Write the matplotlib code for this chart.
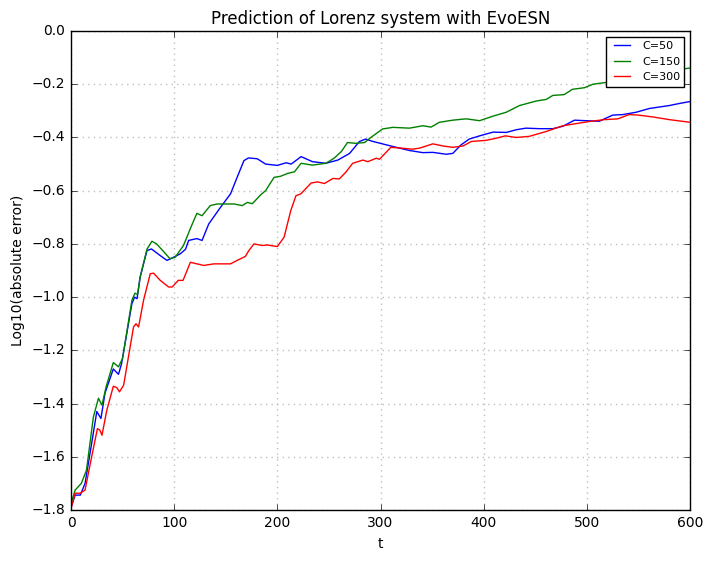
import numpy as np
import matplotlib
matplotlib.use("Agg")
import matplotlib.pyplot as plt

plt.style.use("classic")

# C=50
t_c50 = [0, 4, 9, 13.6, 20, 25, 29, 33, 41, 46, 49, 59, 61.6, 64, 67, 73.6, 78, 86.5, 93, 99.5,
         106, 111, 114, 122, 127, 133.5, 145, 154.6, 161, 167.6, 172, 180.5, 188.6, 200, 208.6,
         213.4, 223, 234, 247, 258.6, 270, 279.6, 285.5, 292.6, 312, 328, 341, 350.7, 363.6, 370,
         378, 386, 396, 409, 422, 431.5, 441, 454, 467, 476.7, 488, 499, 512, 525, 535, 548,
         560.7, 580, 590, 600]
e_c50 = [-1.79, -1.744, -1.744, -1.70, -1.55, -1.43, -1.456, -1.36, -1.27, -1.29, -1.25, -1.025,
         -1.0, -1.006, -0.925, -0.825, -0.819, -0.844, -0.862, -0.85, -0.837, -0.82, -0.787, -0.78,
         -0.787, -0.725, -0.662, -0.612, -0.55, -0.487, -0.477, -0.48, -0.50, -0.505, -0.495,
         -0.50, -0.472, -0.491, -0.497, -0.485, -0.46, -0.415, -0.406, -0.415, -0.434, -0.449,
         -0.457, -0.456, -0.463, -0.46, -0.428, -0.406, -0.394, -0.38, -0.381, -0.371, -0.365,
         -0.367, -0.367, -0.358, -0.335, -0.337, -0.339, -0.316, -0.314, -0.305, -0.291, -0.28,
         -0.272, -0.265]

# C=150
t_c150 = [0, 4, 10, 15, 21.7, 26.6, 30, 34, 41, 46, 50, 59, 62, 64.5, 67, 73.6, 78.4, 83, 90, 96,
          101, 109, 117, 122, 127, 135, 141.6, 158, 166, 171, 175.7, 184, 188.6, 196.8, 203,
          210, 216.6, 223, 234, 247, 255, 262, 268, 276, 284.5, 291, 302, 312, 328, 341, 349,
          357, 370, 383, 396, 409, 422, 434.7, 451, 460.6, 467, 478, 486, 497.7, 505.8, 517,
          540, 560, 580, 600]
e_c150 = [-1.775, -1.725, -1.70, -1.65, -1.45, -1.38, -1.406, -1.337, -1.246, -1.262, -1.23,
          -1.012, -0.985, -0.99, -0.925, -0.82, -0.79, -0.80, -0.83, -0.856, -0.85, -0.806, -0.73,
          -0.685, -0.694, -0.656, -0.65, -0.65, -0.656, -0.644, -0.649, -0.615, -0.60, -0.55,
          -0.546, -0.535, -0.529, -0.497, -0.504, -0.497, -0.478, -0.453, -0.419, -0.422, -0.419,
          -0.399, -0.368, -0.362, -0.365, -0.356, -0.361, -0.343, -0.335, -0.33, -0.337, -0.32,
          -0.305, -0.28, -0.263, -0.257, -0.242, -0.239, -0.219, -0.213, -0.20, -0.194, -0.18,
          -0.165, -0.15, -0.139]

# C=300
t_c300 = [0, 4, 9, 13.6, 20, 25.6, 28, 30, 34.7, 41, 44.4, 47, 51, 60.6, 63, 65.5, 70.3, 76.8, 80,
          86.5, 94.6, 98, 104, 108.6, 115.7, 122, 128.7, 138.4, 154.6, 161, 169, 172.4, 177.3,
          185.4, 190, 200, 206.5, 213, 218, 222.7, 232.8, 239, 245.7, 253.8, 260, 266.7, 273,
          282.9, 287.7, 295.8, 299, 310, 320, 331, 338, 350.7, 360.4, 370, 380, 388, 402, 412,
          421, 431.5, 444, 461, 476.7, 489.6, 504, 517, 530, 541, 550, 564, 580, 600]
e_c300 = [-1.794, -1.737, -1.737, -1.725, -1.60, -1.494, -1.50, -1.519, -1.425, -1.335, -1.34,
          -1.356, -1.331, -1.112, -1.10, -1.112, -1.012, -0.912, -0.91, -0.937, -0.962, -0.962,
          -0.937, -0.937, -0.869, -0.875, -0.881, -0.875, -0.875, -0.862, -0.847, -0.825, -0.80,
          -0.806, -0.804, -0.81, -0.775, -0.675, -0.619, -0.612, -0.571, -0.567, -0.573, -0.554,
          -0.556, -0.529, -0.497, -0.485, -0.491, -0.478, -0.482, -0.437, -0.44, -0.444, -0.44,
          -0.424, -0.432, -0.437, -0.432, -0.415, -0.411, -0.403, -0.394, -0.40, -0.396, -0.377,
          -0.356, -0.348, -0.339, -0.333, -0.33, -0.314, -0.316, -0.323, -0.333, -0.343]

fig = plt.figure(figsize=(7.13, 5.61), dpi=100)
ax = fig.add_axes([0.0996, 0.0909, 0.8682, 0.8538])

ax.plot(t_c50, e_c50, color="b", label="C=50")
ax.plot(t_c150, e_c150, color="g", label="C=150")
ax.plot(t_c300, e_c300, color="r", label="C=300")

ax.set_xlim(0, 600)
ax.set_ylim(-1.8, 0.0)
ax.set_axisbelow(True)   # keep the dotted grid off the black frame
ax.grid(True, color="0.75", linestyle=":", linewidth=1)
ax.set_xlabel("t", fontsize=10)
ax.set_ylabel("Log10(absolute error)", fontsize=10)
ax.set_title("Prediction of Lorenz system with EvoESN", fontsize=12)
ax.tick_params(labelsize=10)
ax.legend(loc="upper right", fontsize=8)

fig.savefig("out.png", dpi=100)
